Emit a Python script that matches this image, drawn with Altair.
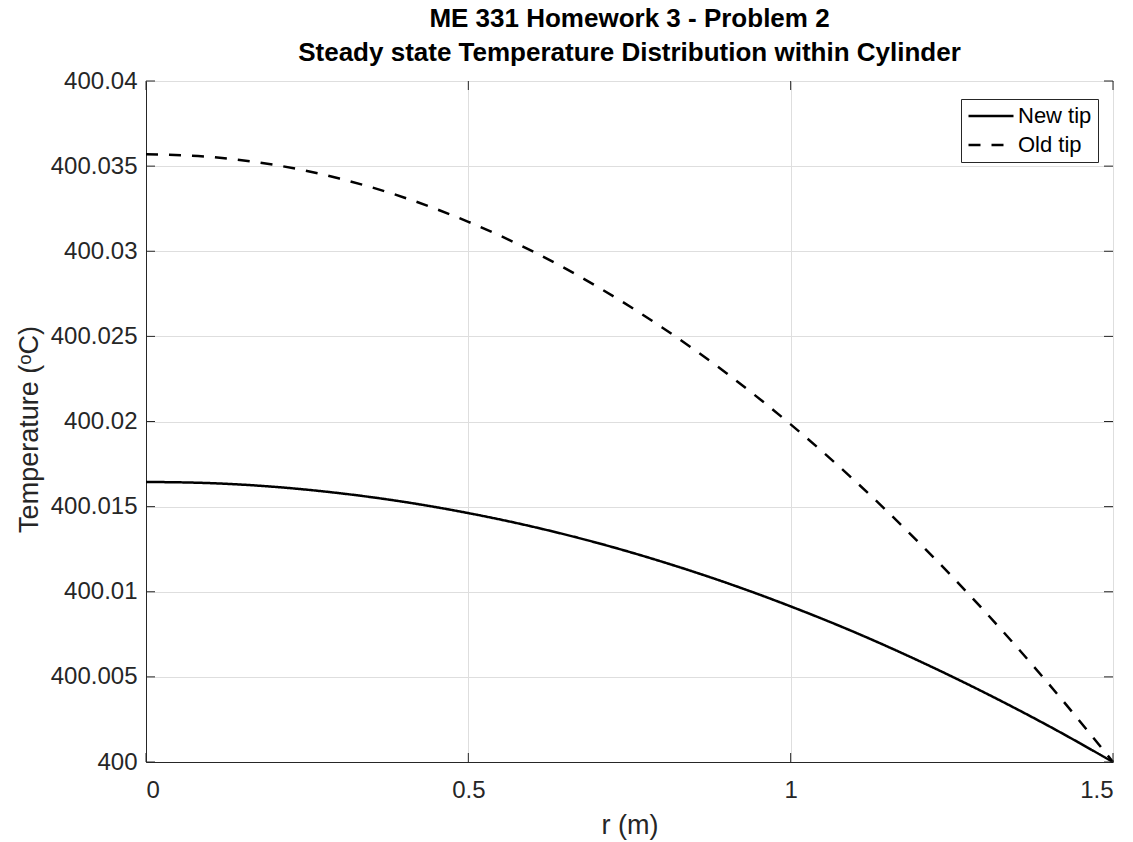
import altair as alt
import pandas as pd

# radius values (m)
r_vals = [0.0, 0.1, 0.2, 0.3, 0.4, 0.5, 0.6, 0.7, 0.8, 0.9, 1.0, 1.1, 1.2, 1.3, 1.4, 1.5]
# temperatures (deg C)
new_tip = [400.01645, 400.01638, 400.01616, 400.01579, 400.01528, 400.01462, 400.01382, 400.01287,
           400.01177, 400.01053, 400.00914, 400.00761, 400.00592, 400.00409, 400.00212, 400.0]
old_tip = [400.0357, 400.03554, 400.03507, 400.03427, 400.03316, 400.03173, 400.02999, 400.02792,
           400.02554, 400.02285, 400.01983, 400.01650, 400.01285, 400.00889, 400.00460, 400.0]
series_names = ["New tip", "Old tip"]

x_ticks = [0, 0.5, 1, 1.5]
y_ticks = [400, 400.005, 400.01, 400.015, 400.02, 400.025, 400.03, 400.035, 400.04]

rows = []
for name, vals in zip(series_names, [new_tip, old_tip]):
    for r, t in zip(r_vals, vals):
        rows.append({"r": r, "T": t, "series": name})
df = pd.DataFrame(rows)

W, H = 967, 681
FONT = "Liberation Sans"
AX = "#262626"

xscale = alt.Scale(domain=[0, 1.5], nice=False, zero=False)
yscale = alt.Scale(domain=[400, 400.04], nice=False, zero=False)

lines = alt.Chart(df).mark_line(color="black", strokeWidth=2.5, interpolate="monotone").encode(
    x=alt.X("r:Q", scale=xscale,
            axis=alt.Axis(values=x_ticks, title="r (m)", format="~g", grid=True, tickSize=0,
                          labelPadding=16, titlePadding=10)),
    y=alt.Y("T:Q", scale=yscale,
            axis=alt.Axis(values=y_ticks, title="Temperature (ᵒC)", format=".3~f", grid=True,
                          tickSize=0, labelPadding=9, titleX=-117, titleY=348,
                          titleAlign="center", titleBaseline="middle")),
    strokeDash=alt.StrokeDash(
        "series:N",
        scale=alt.Scale(domain=series_names, range=[[1, 0], [12, 11]]),
        legend=alt.Legend(title=None, orient="none", legendX=815, legendY=18,
                          symbolType="stroke", symbolSize=2025, symbolStrokeWidth=2.5,
                          symbolStrokeColor="black", clipHeight=22, rowPadding=7,
                          labelFontSize=22, labelFont=FONT, labelColor="black", labelOffset=3,
                          padding=6, strokeColor=AX, fillColor="white"),
    ),
)

ydf = pd.DataFrame({"T": y_ticks})
xdf = pd.DataFrame({"r": x_ticks})

ytick_l = alt.Chart(ydf).mark_rule(color=AX, strokeWidth=1).encode(
    y=alt.Y("T:Q", scale=yscale), x=alt.value(0), x2=alt.value(9))
ytick_r = alt.Chart(ydf).mark_rule(color=AX, strokeWidth=1).encode(
    y=alt.Y("T:Q", scale=yscale), x=alt.value(W - 9), x2=alt.value(W))
xtick_b = alt.Chart(xdf).mark_rule(color=AX, strokeWidth=1).encode(
    x=alt.X("r:Q", scale=xscale), y=alt.value(H - 9), y2=alt.value(H))
xtick_t = alt.Chart(xdf).mark_rule(color=AX, strokeWidth=1).encode(
    x=alt.X("r:Q", scale=xscale), y=alt.value(0), y2=alt.value(9))

chart = alt.layer(lines, ytick_l, ytick_r, xtick_b, xtick_t).properties(
    width=W, height=H,
    background="white",
    title=alt.TitleParams(
        text=["ME 331 Homework 3 - Problem 2", "Steady state Temperature Distribution within Cylinder"],
        anchor="middle", frame="group", font=FONT, fontSize=26, fontWeight="bold",
        color="black", lineHeight=34, offset=16, baseline="bottom", dy=39),
    autosize=alt.AutoSizeParams(type="none"),
    padding={"left": 146, "top": 81, "right": 20, "bottom": 80},
).configure_view(
    stroke=AX, strokeWidth=1
).configure_axis(
    labelFont=FONT, labelFontSize=24, labelColor=AX,
    titleFont=FONT, titleFontSize=27, titleColor=AX, titleFontWeight="normal",
    domainColor=AX, domainWidth=1, gridColor="#dedede", gridWidth=1,
)

chart.save("out.html", embed_options={"renderer": "svg", "actions": False})
